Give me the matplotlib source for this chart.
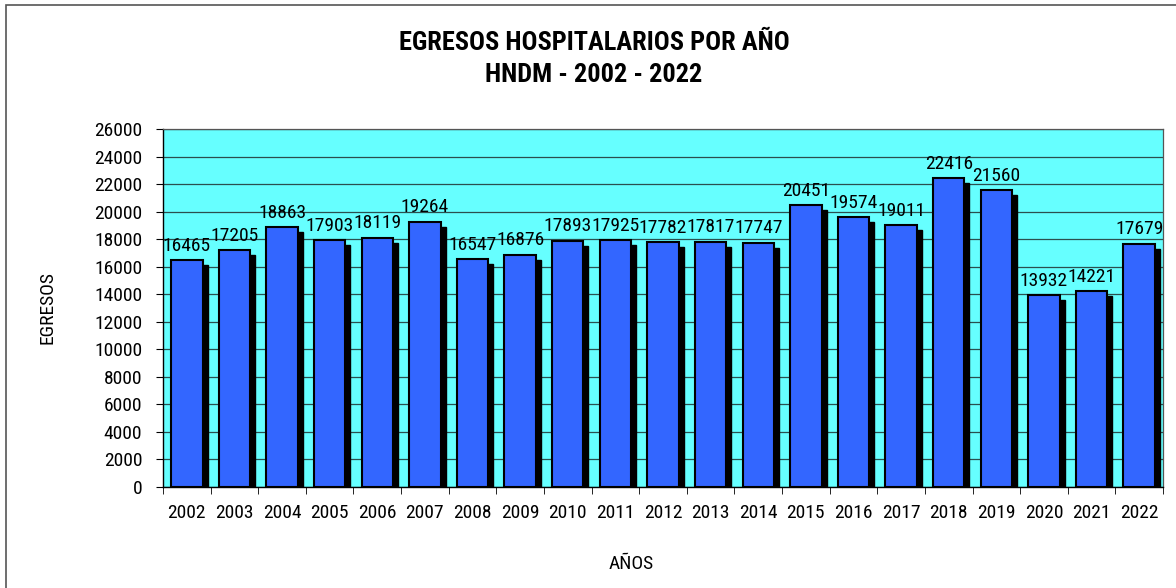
import matplotlib
matplotlib.use('Agg')
import matplotlib.pyplot as plt
import matplotlib.transforms as mtransforms
from matplotlib.patches import Rectangle
import numpy as np

# data
years = ['2002', '2003', '2004', '2005', '2006', '2007', '2008', '2009', '2010', '2011', '2012',
         '2013', '2014', '2015', '2016', '2017', '2018', '2019', '2020', '2021', '2022']
egresos = [16465, 17205, 18863, 17903, 18119, 19264, 16547, 16876, 17893, 17925, 17782,
           17817, 17747, 20451, 19574, 19011, 22416, 21560, 13932, 14221, 17679]
y_ticks = list(range(0, 26001, 2000))

# narrow sans, first one installed wins
plt.rcParams['font.family'] = ['Liberation Sans Narrow', 'Arial Narrow', 'Roboto Condensed',
                               'PT Sans Narrow', 'Archivo Narrow', 'IBM Plex Sans Condensed',
                               'Liberation Sans', 'DejaVu Sans']

fs = 14
fig = plt.figure(figsize=(11.76, 5.88), dpi=100)
ax = fig.add_axes([163 / 1176, 1 - 487 / 588, 1000 / 1176, 358 / 588])

x = np.arange(len(years))
bar_w = 0.66

# drop shadow: same bars shifted 5 px right and 5 px down
shadow_tr = mtransforms.offset_copy(ax.transData, fig=fig, x=5, y=-5, units='dots')
ax.bar(x, egresos, width=bar_w, color='black', edgecolor='black', transform=shadow_tr, zorder=2)
ax.bar(x, egresos, width=bar_w, color='#3366FF', edgecolor='black', linewidth=1.5, zorder=3)

for xi, v in zip(x, egresos):
    ax.annotate(str(v), (xi, v), xytext=(0, 4), textcoords='offset points',
                ha='center', va='bottom', fontsize=fs, zorder=4)

ax.set_facecolor('#66FFFF')
ax.set_xlim(-0.5, len(years) - 0.5)
ax.set_ylim(0, 26000)
ax.set_yticks(y_ticks)
ax.tick_params(axis='y', labelsize=fs, length=5, direction='out', pad=10)
ax.yaxis.grid(True, color='#2b4f4f', linewidth=0.9, zorder=1)
ax.set_axisbelow(True)

# category labels centered, tick marks between categories
ax.set_xticks(x)
ax.set_xticklabels(years, fontsize=fs)
ax.tick_params(axis='x', length=0, pad=12)
ax.set_xticks(np.arange(-0.5, len(years)), minor=True)
ax.tick_params(axis='x', which='minor', length=5, direction='out')

for side in ['top', 'right']:
    ax.spines[side].set_color('#555555')
    ax.spines[side].set_linewidth(0.9)
for side in ['left', 'bottom']:
    ax.spines[side].set_color('black')
    ax.spines[side].set_linewidth(1.0)

ax.set_ylabel('EGRESOS', fontsize=fs)
ax.yaxis.set_label_coords(-106 / 1000, 0.5)
ax.set_xlabel('AÑOS', fontsize=fs)
ax.xaxis.set_label_coords((631 - 163) / 1000, -(555 - 487) / 358)

fig.text(594 / 1176, 1 - 43 / 588, 'EGRESOS HOSPITALARIOS POR AÑO', ha='center', va='center',
         fontsize=19, fontweight='bold')
fig.text(594 / 1176, 1 - 75 / 588, 'HNDM - 2002 - 2022', ha='center', va='center',
         fontsize=19, fontweight='bold')

# outer chart border
fig.patches.append(Rectangle((6 / 1176, -0.1), 1.2, 1 - 5 / 588 + 0.1, transform=fig.transFigure,
                             fill=False, edgecolor='#555555', linewidth=1.2))

fig.savefig('out.png', dpi=100)
